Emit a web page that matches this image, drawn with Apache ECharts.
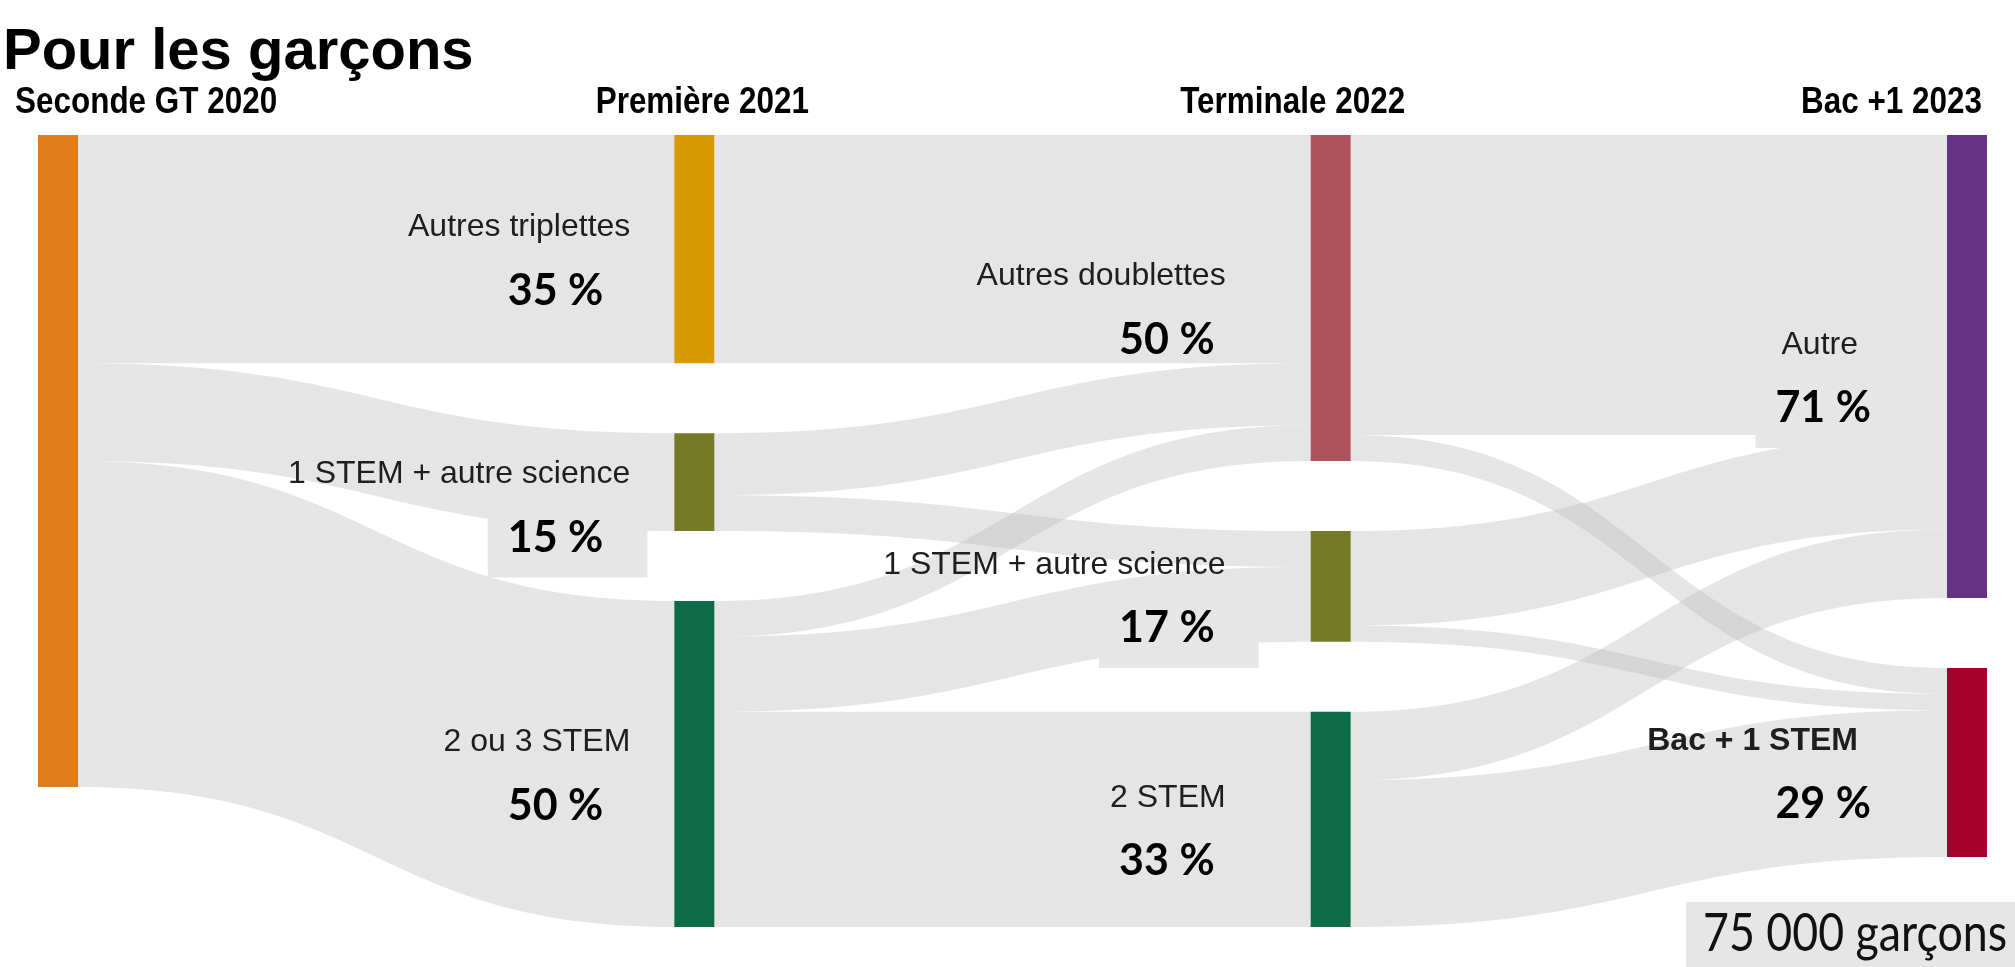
<!DOCTYPE html>
<html>
<head>
<meta charset="utf-8">
<title>Pour les garçons</title>
<script src="https://cdn.jsdelivr.net/npm/echarts@6/dist/echarts.min.js"></script>
<style>
  html, body { margin: 0; padding: 0; background: #ffffff; }
  #chart { width: 2015px; height: 967px; }
</style>
</head>
<body>
<div id="chart"></div>
<script>
// Parcours des garçons entrés en seconde GT en 2020, en % de la cohorte

const chartTitle = 'Pour les garçons';
const cohortText = '75 000 garçons';

// Étapes du parcours (une colonne par année)
const stages = ['Seconde GT 2020', 'Première 2021', 'Terminale 2022', 'Bac +1 2023'];

// Nœuds : identifiant, libellé affiché, étape
const nodeIds    = ['s2020', 'p_trip', 'p_1stem', 'p_stem', 't_doub', 't_1stem', 't_stem', 'b_autre', 'b_stem'];
const nodeLabels = ['Seconde GT 2020', 'Autres triplettes', '1 STEM + autre science', '2 ou 3 STEM',
                    'Autres doublettes', '1 STEM + autre science', '2 STEM', 'Autre', 'Bac + 1 STEM'];
const nodeStage  = [0, 1, 1, 1, 2, 2, 2, 3, 3];

// Flux entre étapes (% de la cohorte)
const flowFrom  = ['s2020', 's2020', 's2020', 'p_trip', 'p_1stem', 'p_1stem', 'p_stem', 'p_stem', 'p_stem',
                   't_doub', 't_doub', 't_1stem', 't_1stem', 't_stem', 't_stem'];
const flowTo    = ['p_trip', 'p_1stem', 'p_stem', 't_doub', 't_doub', 't_1stem', 't_doub', 't_1stem', 't_stem',
                   'b_autre', 'b_stem', 'b_autre', 'b_stem', 'b_autre', 'b_stem'];
const flowShare = [35, 15, 50, 35, 9.5, 5.5, 5.5, 11.5, 33,
                   46, 4, 14.5, 2.5, 10.5, 22.5];

// ---- styles ----
const nodeColors = {
  s2020: '#e07c1a', p_trip: '#d99a00', p_1stem: '#747a26', p_stem: '#0e6b47',
  t_doub: '#ae525c', t_1stem: '#747a26', t_stem: '#0e6b47', b_autre: '#663384', b_stem: '#a3002a'
};
const boxedPercent = ['p_1stem', 't_1stem', 'b_autre'];
const boldNames = ['b_stem'];
const labelNudge = { p_1stem: [0, 30] };

const FONT_SANS = '"Liberation Sans", Arial, sans-serif';
const FONT_PCT = 'Lato, "Noto Sans", sans-serif';
const BOX_GREY = '#e6e6e6';

const SERIES_LEFT = 38, SERIES_RIGHT = 28, SERIES_TOP = 135, SERIES_BOTTOM = 40;

// label geometry per column: gap to node, extra right padding of the name line
const colLabel = [null, { dist: 27, namePad: 17 }, { dist: 52, namePad: 33 }, { dist: 32, namePad: 57 }];

// column headings: anchor on the top node of the column
const headAlign = ['left', 'center', 'center', 'right'];
const headDx = [-23, 8, -38, -5];

function richFor(stage, bold, boxed) {
  return {
    n: {
      fontFamily: FONT_SANS, fontSize: 32, fontWeight: bold ? 'bold' : 'normal',
      color: '#1e1e1e', lineHeight: 56, align: 'right',
      padding: [0, colLabel[stage].namePad, 0, 0]
    },
    p: {
      fontFamily: FONT_PCT, fontSize: 43, fontWeight: 'bold', color: '#000000',
      align: 'right', padding: [14, 44, 18, 20],
      backgroundColor: boxed ? BOX_GREY : 'transparent'
    }
  };
}

const fmtShare = v => String(Math.round(v * 10) / 10);
const labelOf = name => nodeLabels[nodeIds.indexOf(name)];

const nodes = nodeIds.map((id, i) => {
  const node = { name: id, depth: nodeStage[i], itemStyle: { color: nodeColors[id] } };
  if (nodeStage[i] > 0) {
    const lbl = {};
    if (boxedPercent.includes(id) || boldNames.includes(id)) {
      lbl.rich = richFor(nodeStage[i], boldNames.includes(id), boxedPercent.includes(id));
    }
    if (labelNudge[id]) lbl.offset = labelNudge[id];
    node.label = lbl;
  }
  return node;
});

const links = flowFrom.map((s, i) => ({ source: s, target: flowTo[i], value: flowShare[i] }));

const sideLabel = stage => ({
  show: true,
  position: 'left',
  distance: colLabel[stage].dist,
  offset: [0, 16],
  formatter: p => `{n|${labelOf(p.name)}}\n{p|${fmtShare(p.value)} %}`,
  rich: richFor(stage, false, false)
});

const chart = echarts.init(document.getElementById('chart'), null, { renderer: 'canvas' });

chart.setOption({
  backgroundColor: '#ffffff',
  animation: false,
  series: [{
    type: 'sankey',
    left: SERIES_LEFT, right: SERIES_RIGHT, top: SERIES_TOP, bottom: SERIES_BOTTOM,
    nodeWidth: 40,
    nodeGap: 70,
    layoutIterations: 0,
    draggable: false,
    emphasis: { disabled: true },
    itemStyle: { borderWidth: 0 },
    lineStyle: { color: '#bbbbbb', opacity: 0.38, curveness: 0.5 },
    label: { show: true },
    levels: [
      { depth: 0, label: { show: false } },
      { depth: 1, label: sideLabel(1) },
      { depth: 2, label: sideLabel(2) },
      { depth: 3, label: sideLabel(3) }
    ],
    data: nodes,
    links: links
  }]
});

// Column headings placed above the top node of each stage, from the computed layout
const seriesData = chart.getModel().getSeriesByIndex(0).getData();
const headings = stages.map((stage, s) => {
  let top = null;
  nodeIds.forEach((id, i) => {
    if (nodeStage[i] !== s) return;
    const lay = seriesData.getItemLayout(i);
    if (!top || lay.y < top.y) top = lay;
  });
  const k = { left: 0, center: 0.5, right: 1 }[headAlign[s]];
  return {
    type: 'text',
    x: SERIES_LEFT + top.x + top.dx * k + headDx[s],
    y: SERIES_TOP + top.y - 32,
    scaleX: 0.85,
    style: {
      text: stage, fill: '#000000', align: headAlign[s], verticalAlign: 'middle',
      font: `bold 37px ${FONT_SANS}`
    },
    z: 10
  };
});

chart.setOption({
  graphic: [
    {
      type: 'text', x: 3, y: 53,
      style: { text: chartTitle, fill: '#000000', align: 'left', verticalAlign: 'middle',
               font: `bold 58px ${FONT_SANS}` },
      z: 10
    },
    ...headings,
    {
      type: 'group', z: 10,
      children: [
        { type: 'rect', shape: { x: 1686, y: 902, width: 329, height: 65 }, style: { fill: BOX_GREY } },
        { type: 'text', x: 1703, y: 934, scaleX: 0.86,
          style: { text: cohortText, fill: '#111111', align: 'left', verticalAlign: 'middle',
                   font: `52px ${FONT_PCT}` } }
      ]
    }
  ]
});
</script>
</body>
</html>
